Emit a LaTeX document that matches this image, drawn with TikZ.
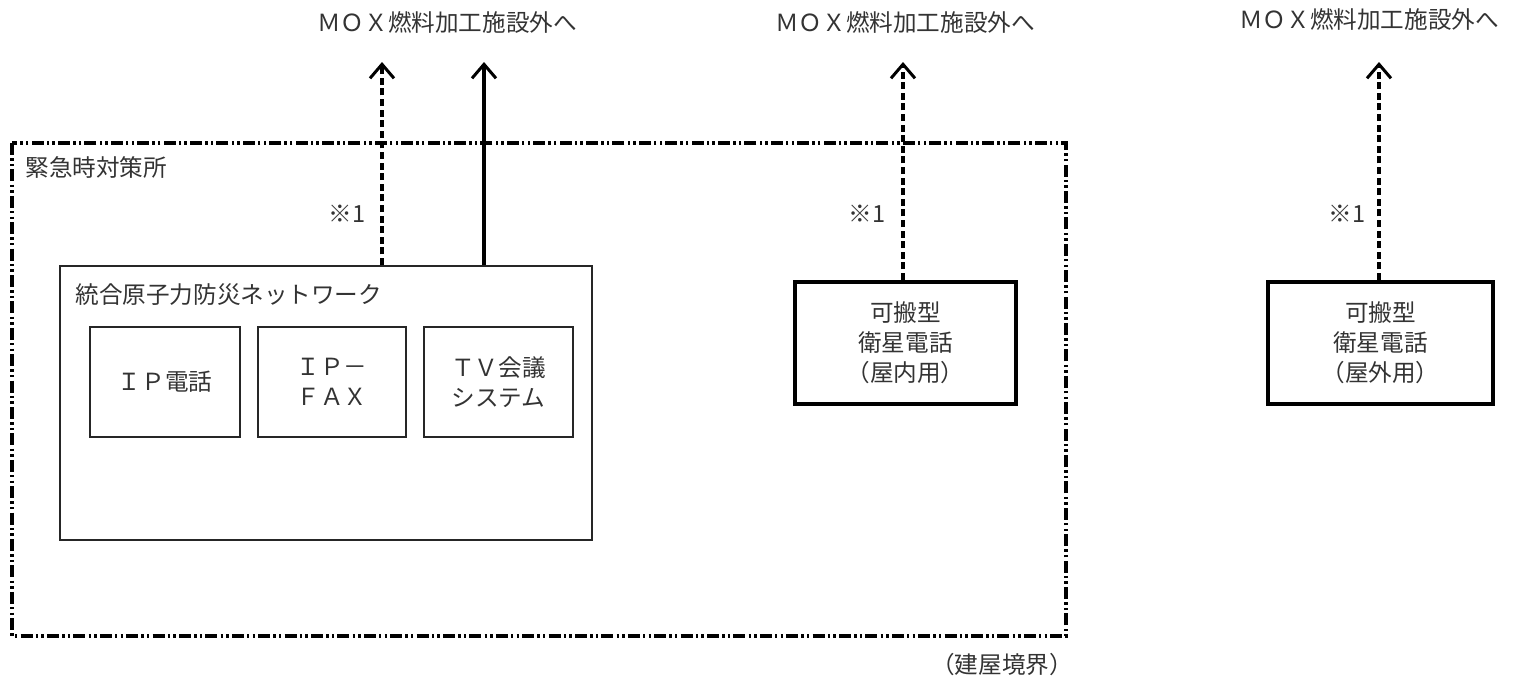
\documentclass[tikz,border=0pt]{standalone}
\usepackage{fontspec}
\newfontfamily\jp{Noto Sans CJK JP}
\usetikzlibrary{arrows.meta,calc}
\begin{document}
\begin{tikzpicture}[x=0.5pt,y=-0.5pt,
  every node/.style={font=\jp\fontsize{11.8pt}{15pt}\selectfont, text=black!80},
  lbl/.style={inner sep=0pt},
  boundary/.style={line width=1.6pt, dash pattern=on 6pt off 1.6pt on 1.2pt off 1.6pt on 1.2pt off 1.6pt},
  netbox/.style={draw=black!85, line width=1pt, inner sep=0pt, minimum width=266pt, minimum height=137pt},
  devbox/.style={draw=black!85, line width=1.2pt, inner sep=0pt, align=center, minimum height=55pt},
  satbox/.style={draw=black, line width=2pt, inner sep=0pt, align=center, minimum height=61pt},
  dlink/.style={line width=1.6pt, dash pattern=on 3.5pt off 1.8pt, -{Straight Barb[length=7pt,width=12pt,line width=1.5pt]}},
  slink/.style={line width=1.6pt, -{Straight Barb[length=7pt,width=12pt,line width=1.5pt]}}
]
\useasboundingbox (0,0) rectangle (1517,685);
% building boundary
\draw[boundary] (12,143) rectangle (1066,636);
\node[lbl, anchor=west] (ecc) at (25,167) {緊急時対策所};
\node[lbl] (bnd) at (1002,665) {（建屋境界）};

% network box
\node[netbox] (net) at (326,403) {};
\node[lbl, anchor=west] (netlbl) at (75,295) {統合原子力防災ネットワーク};
\node[devbox, minimum width=75pt] (ip) at (165,382) {ＩＰ電話};
\node[devbox, minimum width=74pt] (fax) at (332,382) {ＩＰ－\\ＦＡＸ};
\node[devbox, minimum width=74.5pt] (tv) at (498.5,382) {ＴＶ会議\\システム};

% satellite phones
\node[satbox, minimum width=110.5pt] (sat1) at (905.5,343) {可搬型\\衛星電話\\（屋内用）};
\node[satbox, minimum width=112.5pt] (sat2) at (1380.5,343) {可搬型\\衛星電話\\（屋外用）};

% destinations
\node[lbl] (out1) at (447,22) {ＭＯＸ燃料加工施設外へ};
\node[lbl] (out2) at (905,22) {ＭＯＸ燃料加工施設外へ};
\node[lbl] (out3) at (1369,19) {ＭＯＸ燃料加工施設外へ};

\coordinate (t1) at (382,62);
\coordinate (t2) at (484,62);
\coordinate (t3) at (903,62);
\coordinate (t4) at (1379,62);

\draw[dlink] (net.north -| t1) -- (t1);
\draw[slink] (net.north -| t2) -- (t2);
\draw[dlink] (sat1.north -| t3) -- (t3);
\draw[dlink] (sat2.north -| t4) -- (t4);

\node[lbl] (n1) at (347,214) {※1};
\node[lbl] (n2) at (867,214) {※1};
\node[lbl] (n3) at (1347,214) {※1};
\end{tikzpicture}
\end{document}
